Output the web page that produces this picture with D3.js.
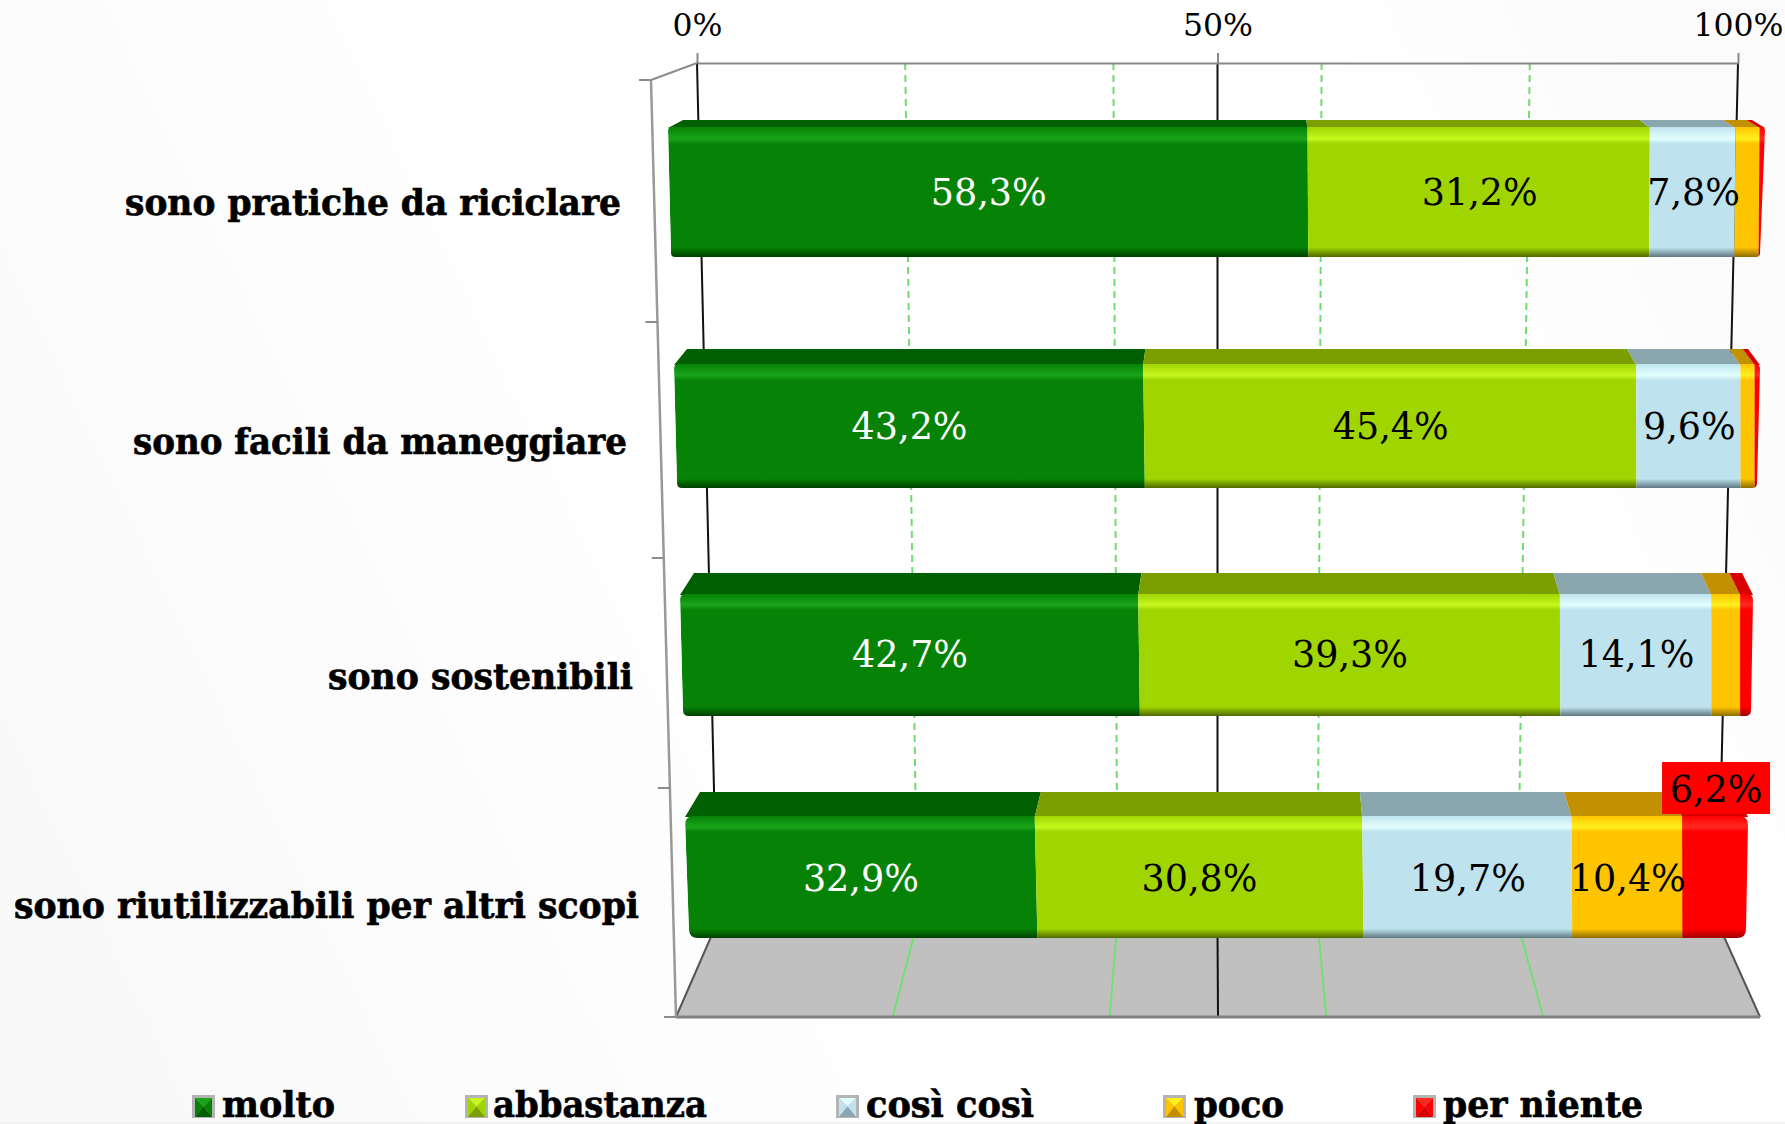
<!DOCTYPE html>
<html>
<head>
<meta charset="utf-8">
<script src="https://cdn.jsdelivr.net/npm/d3@7"></script>
<style>
html, body { margin: 0; padding: 0; background: #fff; }
svg { display: block; }
</style>
</head>
<body>
<div class="chart"></div>
<script>
// valori
var categories = ["sono pratiche da riciclare", "sono facili da maneggiare", "sono sostenibili", "sono riutilizzabili per altri scopi"];
var seriesNames = ["molto", "abbastanza", "così così", "poco", "per niente"];
var molto = [58.3, 43.2, 42.7, 32.9];
var abbastanza = [31.2, 45.4, 39.3, 30.8];
var cosiCosi = [7.8, 9.6, 14.1, 19.7];
var poco = [2.2, 1.3, 2.7, 10.4];
var perNiente = [0.5, 0.5, 1.2, 6.2];
var percentTicks = [0, 50, 100];
var gridTicks = [20, 40, 60, 80];

var width = 1785, height = 1124;
var serif = '"DejaVu Serif", serif';
var condensed = '"DejaVu Serif Condensed", "DejaVu Serif", serif';

// colori: principale, riflesso, ombra in basso, faccia superiore
var colors = [
    {main: "#068306", light: "#1ba41b", dark: "#003f00", top: "#005f00"},
    {main: "#a0d502", light: "#c6f81e", dark: "#4f6800", top: "#7b9f00"},
    {main: "#bfe3ee", light: "#e2ffff", dark: "#5d7880", top: "#8aa7b0"},
    {main: "#ffc400", light: "#fff01e", dark: "#8c6c00", top: "#c29000"},
    {main: "#ff0000", light: "#ff2a22", dark: "#a00000", top: "#d80000"}
];

var table = categories.map(function (c, i) {
    var row = {category: c};
    row[seriesNames[0]] = molto[i];
    row[seriesNames[1]] = abbastanza[i];
    row[seriesNames[2]] = cosiCosi[i];
    row[seriesNames[3]] = poco[i];
    row[seriesNames[4]] = perNiente[i];
    return row;
});
var stacked = d3.stack().keys(seriesNames)(table);

var wallTopY = 63, wallMidY = 790, wallBottomY = 930, floorY = 1017;

// le scale x della prospettiva
var xWallTop = d3.scaleLinear().domain([0, 100]).range([697, 1738]);
var xWallBottom = d3.scaleLinear().domain([0, 100]).range([714, 1721]);
var xFloor = d3.scaleLinear().domain([0, 100]).range([676, 1760]);

// geometria delle barre per riga
var rowIdx = [0, 1, 2, 3];
var yBack = d3.scaleLinear().domain(rowIdx).range([120, 349, 573, 792]);
var yFront = d3.scaleLinear().domain(rowIdx).range([127, 364, 594, 816]);
var yBottom = d3.scaleLinear().domain(rowIdx).range([257, 488, 716, 938]);
var yLabel = d3.scaleLinear().domain(rowIdx).range([205, 439, 667, 891]);
var frontL = d3.scaleLinear().domain(rowIdx).range([668, 674, 680, 685]);
var frontR = d3.scaleLinear().domain(rowIdx).range([1765, 1760, 1753, 1748]);
var botL = d3.scaleLinear().domain(rowIdx).range([671, 677, 683, 689]);
var botR = d3.scaleLinear().domain(rowIdx).range([1760, 1757, 1751, 1746]);
var segBotR = d3.scaleLinear().domain(rowIdx).range([1764, 1760, 1753, 1748]);
var backL = d3.scaleLinear().domain(rowIdx).range([683, 687, 694, 700]);
var backR = d3.scaleLinear().domain(rowIdx).range([1752, 1748, 1742, 1736]);
var corner = d3.scaleLinear().domain(rowIdx).range([4, 5, 6, 9]);

var yTick = d3.scaleLinear().domain([0, 1, 2, 3, 4]).range([80, 322, 558, 788, 1017]);
var xWallSide = d3.scaleLinear().domain([80, 1017]).range([651, 676]);

var svg = d3.select(".chart").append("svg")
    .attr("width", width)
    .attr("height", height);

var defs = svg.append("defs");

var bg = defs.append("linearGradient").attr("id", "bg")
    .attr("x1", "0").attr("y1", "0.65").attr("x2", "1").attr("y2", "0.35");
bg.append("stop").attr("offset", "0").attr("stop-color", "#f9f9f9");
bg.append("stop").attr("offset", "0.42").attr("stop-color", "#ffffff");
bg.append("stop").attr("offset", "0.85").attr("stop-color", "#ffffff");
bg.append("stop").attr("offset", "1").attr("stop-color", "#fbfbfb");

colors.forEach(function (c, i) {
    var g = defs.append("linearGradient").attr("id", "front" + i)
        .attr("x1", "0").attr("y1", "0").attr("x2", "0").attr("y2", "1");
    g.append("stop").attr("offset", "0").attr("stop-color", c.main);
    g.append("stop").attr("offset", "0.09").attr("stop-color", c.light);
    g.append("stop").attr("offset", "0.13").attr("stop-color", c.main);
    g.append("stop").attr("offset", "0.925").attr("stop-color", c.main);
    g.append("stop").attr("offset", "1").attr("stop-color", c.dark);
});

svg.append("rect").attr("width", width).attr("height", height).attr("fill", "url(#bg)");
svg.append("rect").attr("y", 1122).attr("width", width).attr("height", 2).attr("fill", "#f1f1f1");

// pavimento
svg.append("polygon")
    .attr("points", [[xWallBottom(0), wallBottomY], [xWallBottom(100), wallBottomY], [xFloor(100), floorY], [xFloor(0), floorY]].join(" "))
    .attr("fill", "#c0c0c0");

function wallPath(v) {
    return "M" + xWallTop(v) + "," + wallTopY +
        " L" + xWallBottom(v) + "," + wallMidY +
        " L" + xWallBottom(v) + "," + wallBottomY;
}

// griglia secondaria
gridTicks.forEach(function (v) {
    svg.append("path")
        .attr("d", wallPath(v))
        .attr("fill", "none")
        .attr("stroke", "#6fdc6f").attr("stroke-width", 2).attr("stroke-dasharray", "7,5");
    svg.append("line")
        .attr("x1", xWallBottom(v)).attr("y1", wallBottomY)
        .attr("x2", xFloor(v)).attr("y2", floorY)
        .attr("stroke", "#72e072").attr("stroke-width", 2);
});

// griglia principale
percentTicks.forEach(function (v) {
    svg.append("path")
        .attr("d", wallPath(v))
        .attr("fill", "none")
        .attr("stroke", "#111").attr("stroke-width", 2);
    svg.append("line")
        .attr("x1", xWallBottom(v)).attr("y1", wallBottomY)
        .attr("x2", xFloor(v)).attr("y2", floorY)
        .attr("stroke", v === 50 ? "#111" : "#555").attr("stroke-width", 2);
});

// asse in alto
var axisTop = d3.axisTop(xWallTop)
    .tickValues(percentTicks)
    .tickSize(10)
    .tickSizeOuter(0)
    .tickFormat(function (d) { return d + "%"; });

var axisG = svg.append("g")
    .attr("transform", "translate(0," + wallTopY + ")")
    .call(axisTop);
axisG.select(".domain").attr("stroke", "#888").attr("stroke-width", 2);
axisG.selectAll(".tick line").attr("stroke", "#888").attr("stroke-width", 2);
axisG.selectAll(".tick text")
    .attr("y", -27)
    .attr("dy", 0)
    .style("font-family", serif)
    .style("font-size", "31.5px")
    .attr("fill", "#000");

// linea base e parete sinistra
svg.append("line")
    .attr("x1", xFloor(0)).attr("y1", floorY).attr("x2", xFloor(100)).attr("y2", floorY)
    .attr("stroke", "#808080").attr("stroke-width", 3);
svg.append("line")
    .attr("x1", xWallSide(yTick(0))).attr("y1", yTick(0))
    .attr("x2", xWallTop(0)).attr("y2", wallTopY)
    .attr("stroke", "#8c8c8c").attr("stroke-width", 2);
svg.append("line")
    .attr("x1", xWallSide(yTick(0))).attr("y1", yTick(0))
    .attr("x2", xWallSide(yTick(4))).attr("y2", yTick(4))
    .attr("stroke", "#999").attr("stroke-width", 2.5);
d3.range(5).forEach(function (i) {
    var y = yTick(i);
    svg.append("line")
        .attr("x1", xWallSide(y) - 12).attr("y1", y)
        .attr("x2", xWallSide(y)).attr("y2", y)
        .attr("stroke", "#8c8c8c").attr("stroke-width", 2);
});

// contorno arrotondato della faccia frontale
function frontOutline(i) {
    var r = corner(i), t = yFront(i), b = yBottom(i);
    var l = frontL(i), rr = frontR(i), bl = botL(i), br = botR(i);
    return "M" + (l + r) + "," + t +
        " L" + (rr - r) + "," + t +
        " Q" + rr + "," + t + " " + rr + "," + (t + r) +
        " L" + br + "," + (b - r) +
        " Q" + br + "," + b + " " + (br - r) + "," + b +
        " L" + (bl + r) + "," + b +
        " Q" + bl + "," + b + " " + bl + "," + (b - r) +
        " L" + l + "," + (t + r) +
        " Q" + l + "," + t + " " + (l + r) + "," + t + " Z";
}

var bars = svg.selectAll("g.row")
    .data(categories)
    .enter().append("g")
    .attr("class", "row");

bars.each(function (cat, i) {
    var g = d3.select(this);
    var xFront = d3.scaleLinear().domain([0, 100]).range([frontL(i), frontR(i)]);
    var xBot = d3.scaleLinear().domain([0, 100]).range([botL(i), segBotR(i)]);
    var xBack = d3.scaleLinear().domain([0, 100]).range([backL(i), backR(i)]);

    defs.append("clipPath").attr("id", "clip" + i)
        .append("path").attr("d", frontOutline(i));

    // faccia superiore
    g.selectAll("polygon.top")
        .data(stacked)
        .enter().append("polygon")
        .attr("class", "top")
        .attr("fill", function (s, k) { return colors[k].top; })
        .attr("points", function (s) {
            var a = s[i][0], b = s[i][1];
            return [[xBack(a), yBack(i)], [xBack(b), yBack(i)], [xFront(b), yFront(i) + 1], [xFront(a), yFront(i) + 1]].join(" ");
        });

    // faccia frontale
    g.append("g").attr("clip-path", "url(#clip" + i + ")")
        .selectAll("polygon.front")
        .data(stacked)
        .enter().append("polygon")
        .attr("class", "front")
        .attr("fill", function (s, k) { return "url(#front" + k + ")"; })
        .attr("points", function (s) {
            var a = s[i][0], b = s[i][1];
            return [[xFront(a), yFront(i)], [xFront(b), yFront(i)], [xBot(b), yBottom(i)], [xBot(a), yBottom(i)]].join(" ");
        });

    // etichette dei valori
    stacked.forEach(function (s, k) {
        var v = s[i][1] - s[i][0];
        if (v < 6) return;
        var label = String(v.toFixed(1)).replace(".", ",") + "%";
        var cx = xFront((s[i][0] + s[i][1]) / 2) + 1;
        var by = yLabel(i);
        if (k === 4) {
            // etichetta spostata sopra la barra, su fondo rosso
            g.append("rect")
                .attr("x", cx - 54).attr("y", yBack(i) - 30)
                .attr("width", 108).attr("height", 52)
                .attr("fill", "#ff0000");
            by = yBack(i) + 10;
        }
        g.append("text")
            .attr("x", cx)
            .attr("y", by)
            .attr("text-anchor", "middle")
            .style("font-family", serif)
            .style("font-size", "36.5px")
            .attr("fill", k === 0 ? "#fff" : "#000")
            .text(label);
    });
});

// etichette delle categorie
var catRight = d3.scaleLinear().domain(rowIdx).range([621, 627, 633, 639]);
var catBase = d3.scaleLinear().domain(rowIdx).range([215, 454, 689, 918]);
var catWidth = [496, 494, 305, 625];

svg.selectAll("text.cat")
    .data(categories)
    .enter().append("text")
    .attr("class", "cat")
    .attr("x", function (d, i) { return catRight(i); })
    .attr("y", function (d, i) { return catBase(i); })
    .attr("text-anchor", "end")
    .attr("textLength", function (d, i) { return catWidth[i]; })
    .attr("lengthAdjust", "spacingAndGlyphs")
    .style("font-family", condensed)
    .style("font-weight", "bold")
    .style("font-size", "35px")
    .attr("fill", "#000")
    .attr("stroke", "#000")
    .attr("stroke-width", 0.6)
    .text(function (d) { return d; });

// legenda
var legendX = [192, 465, 836, 1163, 1413];
var legendTextX = [222, 493, 866, 1194, 1443];
var legendTextW = [113, 214, 168, 90, 200];
var swatch = 23, legendTop = 1095;

var legend = svg.selectAll("g.legend")
    .data(seriesNames)
    .enter().append("g")
    .attr("class", "legend");

legend.each(function (name, i) {
    var g = d3.select(this);
    var x = legendX[i], y = legendTop, s = swatch, c = colors[i], m = 3;
    var cx = x + s / 2, cy = y + s / 2;
    g.append("rect").attr("x", x).attr("y", y).attr("width", s).attr("height", s).attr("fill", "#b4b4b4");
    var a = [x + m, y + m], b = [x + s - m, y + m], d = [x + s - m, y + s - 1], e = [x + m, y + s - 1], o = [cx, cy];
    g.append("polygon").attr("points", [a, b, o].join(" ")).attr("fill", c.light);
    g.append("polygon").attr("points", [a, e, o].join(" ")).attr("fill", c.main);
    g.append("polygon").attr("points", [b, d, o].join(" ")).attr("fill", c.main);
    g.append("polygon").attr("points", [e, d, o].join(" ")).attr("fill", c.top);
    g.append("text")
        .attr("x", legendTextX[i])
        .attr("y", 1117)
        .attr("textLength", legendTextW[i])
        .attr("lengthAdjust", "spacingAndGlyphs")
        .style("font-family", condensed)
        .style("font-weight", "bold")
        .style("font-size", "35px")
        .attr("fill", "#000")
        .attr("stroke", "#000")
        .attr("stroke-width", 0.6)
        .text(name);
});
</script>
</body>
</html>
